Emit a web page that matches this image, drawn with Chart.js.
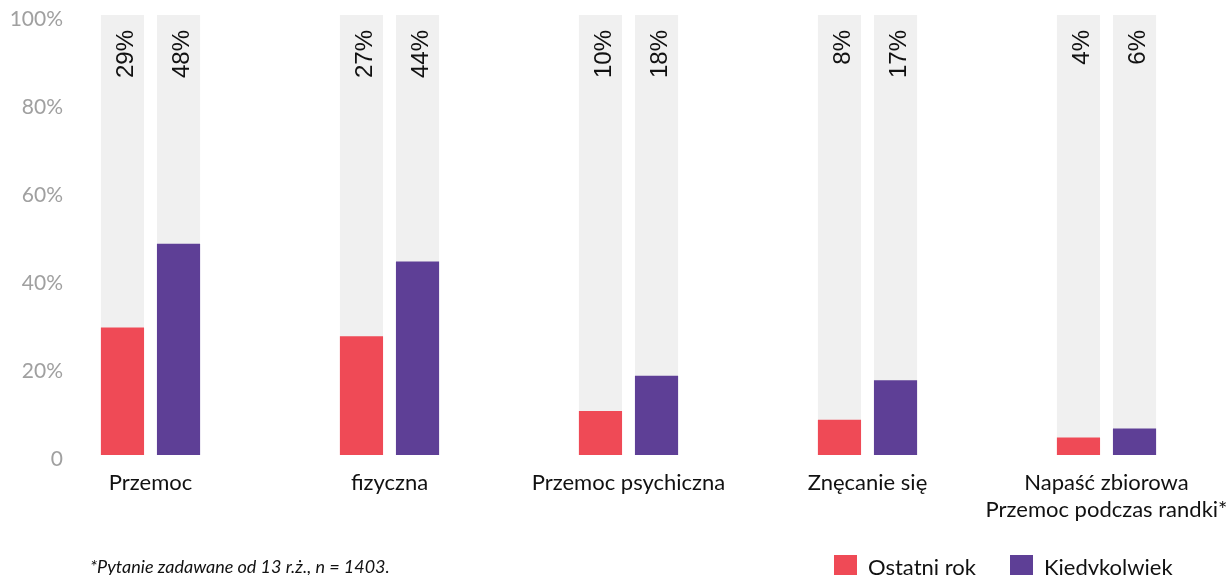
<!DOCTYPE html>
<html lang="pl">
	<head>
		<meta charset="UTF-8">
		<script src="https://cdn.jsdelivr.net/npm/chart.js@4"></script>
		<title>Przemoc</title>
		<style>
			body { margin: 0; background: #fff; overflow: hidden; }
			#wrap { position: relative; width: 1229px; height: 575px; }
			#note { position: absolute; left: 90px; top: 555px; font: italic 18px Lato, sans-serif; color: #111; white-space: nowrap; }
			#legend { position: absolute; left: 834px; top: 555px; font: 22px Lato, sans-serif; color: #111; white-space: nowrap; }
			#legend span.item { display: inline-block; margin-right: 34px; }
			#legend span.box { display: inline-block; width: 23px; height: 23px; margin-right: 11px; vertical-align: top; }
			#legend span.txt { display: inline-block; line-height: 24px; vertical-align: top; }
		</style>
	</head>
	<body>
		<div id="wrap">
			<canvas id="chart"></canvas>
			<div id="note">*Pytanie zadawane od 13 r.ż., n = 1403.</div>
			<div id="legend"></div>
		</div>
		<script>
			// data
			var categories = ["Przemoc", "fizyczna", "Przemoc psychiczna", "Znęcanie się", ["Napaść zbiorowa", "Przemoc podczas randki*"]];
			var seriesNames = ["Ostatni rok", "Kiedykolwiek"];
			var ostatniRok = [29, 27, 10, 8, 4];
			var kiedykolwiek = [48, 44, 18, 17, 6];
			var fullScale = [100, 100, 100, 100, 100];
			var yTicks = [0, 20, 40, 60, 80, 100];

			var colors = ["#ef4a56", "#5e3f96"];
			var gray = "#f0f0f0";

			// legend in html, built from the series
			var leg = document.getElementById("legend");
			seriesNames.forEach(function(name, i) {
				var item = document.createElement("span");
				item.className = "item";
				item.innerHTML = '<span class="box" style="background:' + colors[i] + '"></span><span class="txt">' + name + '</span>';
				leg.appendChild(item);
			});

			// y tick labels sit over the left edge of the plot, so draw them here
			var yLabels = {
				id: "yLabels",
				afterDraw: function(chart) {
					var ctx = chart.ctx;
					var y = chart.scales.y;
					ctx.save();
					ctx.font = "21px Lato, sans-serif";
					ctx.fillStyle = "#a0a0a0";
					ctx.textAlign = "right";
					ctx.textBaseline = "middle";
					y.ticks.forEach(function(t) {
						ctx.fillText(t.value === 0 ? "0" : t.value + "%", 63, y.getPixelForValue(t.value) + 4);
					});
					ctx.restore();
				}
			};

			// rotated value labels at top of each slot
			var valueLabels = {
				id: "valueLabels",
				afterDatasetsDraw: function(chart) {
					var ctx = chart.ctx;
					var top = chart.scales.y.getPixelForValue(100);
					chart.data.datasets.forEach(function(ds, di) {
						if (ds.isBackground) return;
						var meta = chart.getDatasetMeta(di);
						meta.data.forEach(function(bar, i) {
							ctx.save();
							ctx.translate(bar.x + 4, top + 15);
							ctx.rotate(-Math.PI / 2);
							ctx.font = "24px 'Liberation Sans', Arial, sans-serif";
							ctx.fillStyle = "#111";
							ctx.textAlign = "right";
							ctx.textBaseline = "middle";
							ctx.fillText(ds.data[i] + "%", 0, 0);
							ctx.restore();
						});
					});
				}
			};

			var barOpts = { categoryPercentage: 0.469, barPercentage: 0.77 };

			new Chart(document.getElementById("chart"), {
				type: "bar",
				data: {
					labels: categories,
					datasets: [
						Object.assign({ label: seriesNames[0], data: ostatniRok, backgroundColor: colors[0], stack: "a", order: 1 }, barOpts),
						Object.assign({ label: seriesNames[1], data: kiedykolwiek, backgroundColor: colors[1], stack: "b", order: 1 }, barOpts),
						Object.assign({ label: "bg1", data: fullScale, backgroundColor: gray, stack: "a", order: 2, isBackground: true }, barOpts),
						Object.assign({ label: "bg2", data: fullScale, backgroundColor: gray, stack: "b", order: 2, isBackground: true }, barOpts)
					]
				},
				options: {
					responsive: true,
					maintainAspectRatio: false,
					animation: false,
					layout: { padding: { top: 15, right: 3, left: 0, bottom: 0 } },
					plugins: {
						legend: { display: false },
						tooltip: { enabled: false }
					},
					scales: {
						x: {
							stacked: true,
							grid: { display: false, drawTicks: false },
							border: { display: false },
							ticks: {
								color: "#111",
								font: { family: "Lato", size: 22 },
								padding: 15,
								maxRotation: 0,
								autoSkip: false
							},
							afterFit: function(s) {
								s.height = 120;
								s.paddingLeft = 0;
								s.paddingRight = 0;
							}
						},
						y: {
							stacked: false,
							min: 0,
							max: 100,
							grid: { display: false, drawTicks: false },
							border: { display: false },
							afterBuildTicks: function(s) { s.ticks = yTicks.map(function(v) { return { value: v }; }); },
							ticks: { display: false },
							afterFit: function(s) { s.width = 31; }
						}
					}
				},
				plugins: [valueLabels, yLabels]
			});
		</script>
	</body>
</html>
